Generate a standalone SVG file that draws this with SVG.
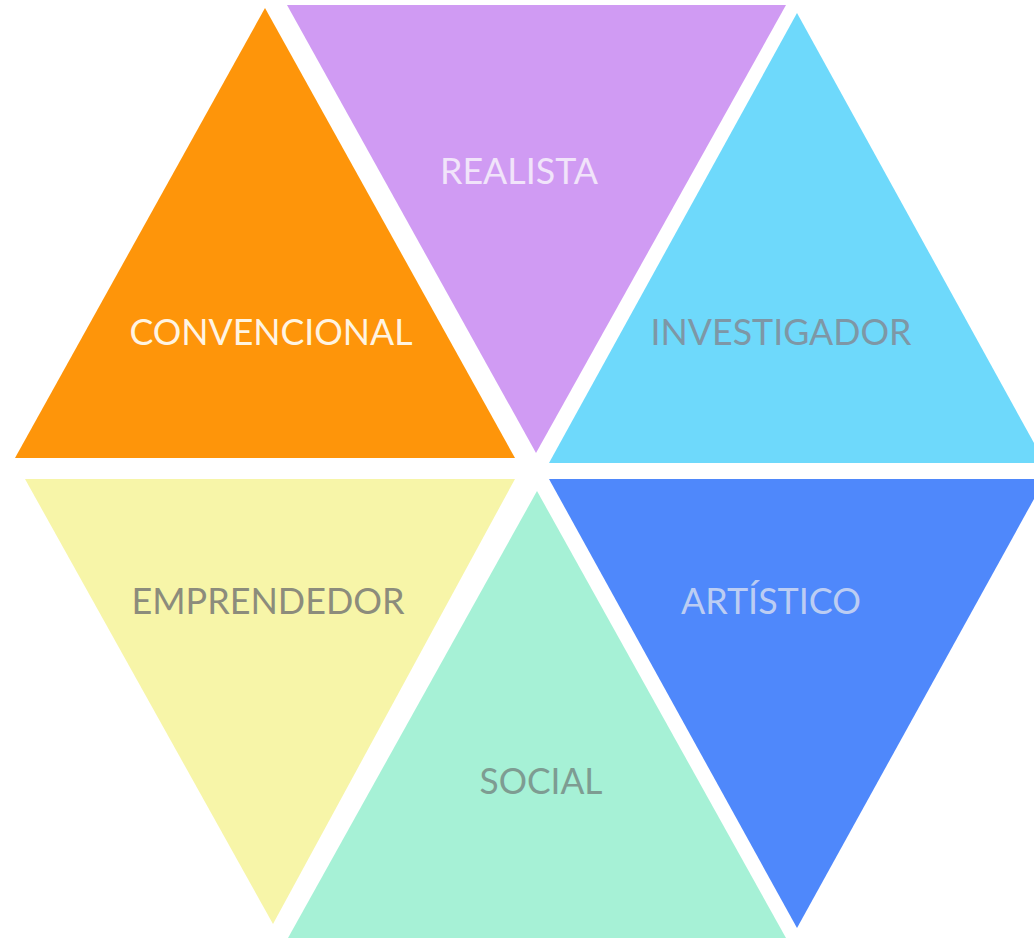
<svg xmlns="http://www.w3.org/2000/svg" width="1034" height="941" viewBox="0 0 1034 941">
<style>
.lbl{font-family:Lato,"Open Sans","Liberation Sans",sans-serif;font-size:37px;text-anchor:middle}
</style>
<rect width="1034" height="941" fill="#ffffff"/>
<g id="convencional">
<polygon points="265,8 15,458 515,458" fill="#FE950A"/>
<text class="lbl" x="271" y="345" fill="#FFF4E2" textLength="283" lengthAdjust="spacingAndGlyphs">CONVENCIONAL</text>
</g>
<g id="realista">
<polygon points="287,5 786,5 536,453" fill="#D09BF3"/>
<text class="lbl" x="519" y="184" fill="#F1E4FA" textLength="158" lengthAdjust="spacingAndGlyphs">REALISTA</text>
</g>
<g id="investigador">
<polygon points="797,13 549,463 1045,463" fill="#6ED9FB"/>
<text class="lbl" x="781" y="345" fill="#7E97A6" textLength="261" lengthAdjust="spacingAndGlyphs">INVESTIGADOR</text>
</g>
<g id="emprendedor">
<polygon points="25,479 515,479 273,924" fill="#F7F5A8"/>
<text class="lbl" x="268" y="614" fill="#8C8C7C" textLength="273" lengthAdjust="spacingAndGlyphs">EMPRENDEDOR</text>
</g>
<g id="artistico">
<polygon points="549,479 1045,479 797,928" fill="#4F88FB"/>
<text class="lbl" x="771" y="614" fill="#BCCDF3" textLength="180" lengthAdjust="spacingAndGlyphs">ARTÍSTICO</text>
</g>
<g id="social">
<polygon points="537,491 288,938 786,938" fill="#A6F1D6"/>
<text class="lbl" x="541" y="794" fill="#7E9C92" textLength="123" lengthAdjust="spacingAndGlyphs">SOCIAL</text>
</g>
<g id="connectors"/>
</svg>
